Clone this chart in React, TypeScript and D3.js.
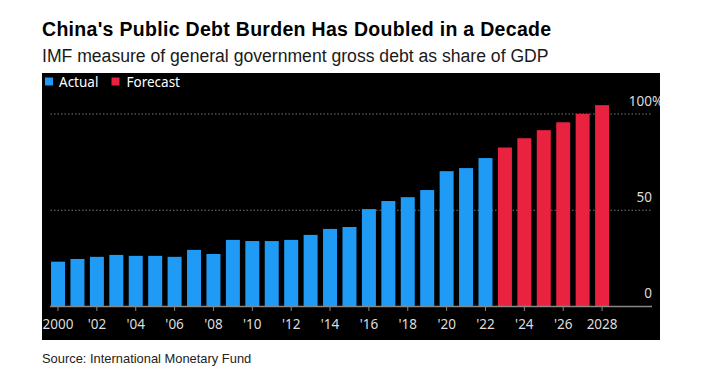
import React from "react";
import * as d3 from "d3";

const years: number[] = [
  2000, 2001, 2002, 2003, 2004, 2005, 2006, 2007, 2008, 2009, 2010, 2011, 2012, 2013, 2014,
  2015, 2016, 2017, 2018, 2019, 2020, 2021, 2022, 2023, 2024, 2025, 2026, 2027, 2028,
];
const debt: number[] = [
  23.3, 24.7, 25.8, 26.8, 26.3, 26.3, 25.8, 29.4, 27.3, 34.6, 34.0, 34.0, 34.6, 37.2, 40.3,
  41.3, 50.6, 54.8, 56.8, 60.5, 70.3, 71.9, 77.1, 82.6, 87.4, 91.6, 95.7, 100.1, 104.6,
];
const lastActualYear = 2022;
const yTicks: number[] = [0, 50, 100];
const xTickYears: number[] = years.filter((y) => y % 2 === 0);
const xTickLabel = (y: number) => (y === 2000 || y === 2028 ? String(y) : "'" + String(y).slice(2));

const title = "China's Public Debt Burden Has Doubled in a Decade";
const subtitle = "IMF measure of general government gross debt as share of GDP";
const source = "Source: International Monetary Fund";

const BLUE = "#1f9bf5";
const RED = "#e9223f";

export default function App() {
  const W = 701;
  const H = 381;
  const panel = { x: 42, y: 73, w: 618, h: 267 };
  const x = d3
    .scaleBand<number>()
    .domain(years)
    .range([48.3, 611.8])
    .paddingInner(0.28)
    .paddingOuter(0.14);
  const y = d3.scaleLinear().domain([0, 100]).range([306.5, 114]);
  const axisFont = "'Noto Sans', sans-serif";

  return (
    <svg
      width={W}
      height={H}
      style={{ position: "absolute", left: 0, top: 0, background: "#fff" }}
    >
      <defs>
        <clipPath id="panelClip">
          <rect x={panel.x} y={panel.y} width={panel.w} height={panel.h} />
        </clipPath>
      </defs>
      <text
        x={42}
        y={35.7}
        fontFamily="'Liberation Sans', Arial, sans-serif"
        fontWeight="bold"
        fontSize={19.5}
        fill="#000"
        letterSpacing={0.3}
      >
        {title}
      </text>
      <text
        x={42}
        y={62.3}
        fontFamily="'Liberation Sans', Arial, sans-serif"
        fontSize={17.6}
        fill="#1a1a1a"
      >
        {subtitle}
      </text>
      <rect x={panel.x} y={panel.y} width={panel.w} height={panel.h} fill="#000" />
      <g clipPath="url(#panelClip)">
        {/* legend */}
        <rect x={45} y={77.5} width={8} height={8} fill={BLUE} />
        <text x={59} y={86.5} fontFamily={axisFont} fontSize={13.5} fill="#fff">
          Actual
        </text>
        <rect x={111.5} y={77.5} width={8} height={8} fill={RED} />
        <text x={126.5} y={86.5} fontFamily={axisFont} fontSize={13.5} fill="#fff">
          Forecast
        </text>
        {/* gridlines */}
        {yTicks
          .filter((t) => t > 0)
          .map((t) => (
            <line
              key={"g" + t}
              x1={50.5}
              x2={652}
              y1={y(t)}
              y2={y(t)}
              stroke="#777"
              strokeWidth={1}
              strokeDasharray="1.5,2"
            />
          ))}
        {/* y labels */}
        {yTicks.map((t) => (
          <g key={"yl" + t}>
            <text
              x={652}
              y={y(t) - 8.3}
              textAnchor="end"
              fontFamily={axisFont}
              fontSize={13.5}
              fill="#ddd"
            >
              {t}
            </text>
            {t === 100 && (
              <text x={652} y={y(t) - 8.3} fontFamily={axisFont} fontSize={13.5} fill="#ddd">
                %
              </text>
            )}
          </g>
        ))}
        {/* bars */}
        {years.map((yr, i) => (
          <rect
            key={yr}
            x={x(yr)}
            y={y(debt[i])}
            width={x.bandwidth()}
            height={y(0) - y(debt[i])}
            fill={yr <= lastActualYear ? BLUE : RED}
          />
        ))}
        {/* baseline */}
        <line x1={50} x2={652} y1={y(0)} y2={y(0)} stroke="#888" strokeWidth={1.5} />
        {xTickYears.map((yr) => {
          const cx = (x(yr) as number) + x.bandwidth() / 2;
          return (
            <g key={"xt" + yr}>
              <line x1={cx} x2={cx} y1={y(0)} y2={y(0) + 4.5} stroke="#888" strokeWidth={1} />
              <text
                x={cx}
                y={329.3}
                textAnchor="middle"
                fontFamily={axisFont}
                fontSize={13.5}
                fill="#ddd"
              >
                {xTickLabel(yr)}
              </text>
            </g>
          );
        })}
      </g>
      <text
        x={42}
        y={362.7}
        fontFamily="'Liberation Sans', Arial, sans-serif"
        fontSize={12.9}
        fill="#222"
      >
        {source}
      </text>
    </svg>
  );
}
